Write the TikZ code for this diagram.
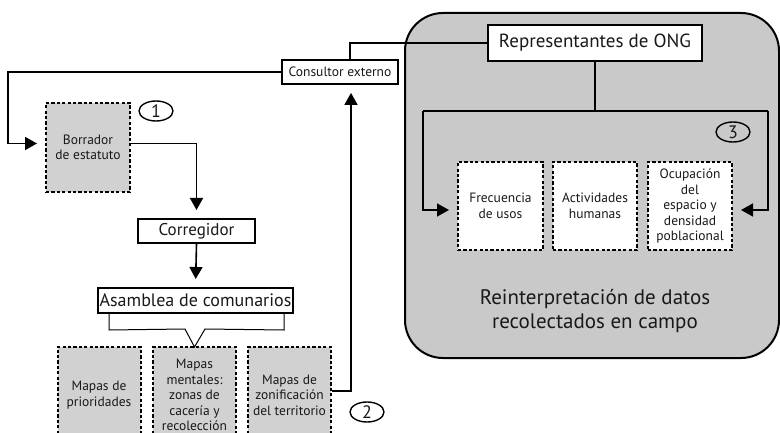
\documentclass[tikz,border=0pt]{standalone}
\usepackage{fontspec}
\setmainfont{PT Sans}
\usetikzlibrary{shapes.geometric,arrows.meta}

\begin{document}
\begin{tikzpicture}[x=1pt,y=-1pt]
\tikzstyle{every node}=[align=center, inner sep=0pt, text=black!90]
\tikzstyle{plain}=[draw, line width=2pt, fill=white]
\tikzstyle{dotbox}=[draw, line width=2pt, dash pattern=on 3.2pt off 2.2pt,
  fill=gray!36, minimum width=83pt, minimum height=89pt,
  font=\fontsize{13.5}{15.5}\selectfont]
\tikzstyle{num}=[draw, ellipse, line width=1.4pt, minimum width=34pt,
  minimum height=20pt, font=\fontsize{18}{18}\selectfont]
\tikzstyle{link}=[line width=1.6pt]
\tikzstyle{tip}=[-{Triangle[length=12pt,width=13pt]}, shorten >=8pt]
\path[use as bounding box, clip] (0,0) rectangle (780,433);
\node[draw, line width=2pt, fill=gray!42, rounded corners=38pt,
  minimum width=374pt, minimum height=345pt] (field) at (592,185.5) {};
\node[font=\fontsize{21}{24.5}\selectfont] (reint) at (595,311)
  {Reinterpretación de datos\\recolectados en campo};
\node[plain, minimum width=214pt, minimum height=36pt,
  font=\fontsize{19}{19}\selectfont] (ong) at (595,43) {Representantes de ONG};
\node[plain, line width=1.8pt, minimum width=116pt, minimum height=24pt,
  font=\fontsize{13.5}{13.5}\selectfont] (cons) at (340,72) {Consultor externo};
\node[dotbox, minimum width=84pt] (borr) at (88,147.5) {Borrador\\de estatuto};
\node[plain, minimum width=117pt, minimum height=24pt,
  font=\fontsize{17}{17}\selectfont] (corr) at (196.5,231) {Corregidor};
\node[plain, minimum width=195pt, minimum height=25pt,
  font=\fontsize{18}{18}\selectfont] (asam) at (195.5,300.5) {Asamblea de comunarios};
\node[dotbox, minimum height=96pt] (prio) at (99,395) {Mapas de\\prioridades};
\node[dotbox, minimum height=96pt] (ment) at (194.5,395)
  {Mapas\\mentales:\\zonas de\\cacería y\\recolección};
\node[dotbox, minimum height=96pt] (zoni) at (289.5,395)
  {Mapas de\\zonificación\\del territorio};
\node[dotbox, fill=white, minimum width=85pt, minimum height=88pt] (frec) at (500.5,206)
  {Frecuencia\\de usos};
\node[dotbox, fill=white, minimum width=84pt, minimum height=88pt] (act) at (595,206)
  {Actividades\\humanas};
\node[dotbox, fill=white, minimum width=84pt, minimum height=88pt] (ocu) at (690,206)
  {Ocupación\\del\\espacio y\\densidad\\poblacional};
\node[num] (n1) at (156,111) {1};
\node[num] (n2) at (367,412) {2};
\node[num] (n3) at (733,132) {3};
\coordinate (lft) at (8,72);
\coordinate (cl) at (423,111);
\coordinate (cr) at (768,111);
\draw[link] (ong.west) -| ([xshift=10pt]cons.north);
\draw[link, tip] (cons.west) -- (lft) |- ([yshift=4pt]borr.west);
\draw[link, tip] ([yshift=4pt]borr.east) -| (corr.north);
\draw[link, tip] (corr.south) -- (asam.north);
\draw[line width=1pt] ([xshift=12pt]asam.south west) -- ++(0,16) -- (185,329)
  -- ([yshift=-1pt]ment.north) -- (205,329) -- ([xshift=-10pt,yshift=-16pt]asam.south east)
  -- ([xshift=-10pt]asam.south east);
\draw[link, tip] ([yshift=4pt]zoni.east) -| ([xshift=11pt]cons.south);
\draw[link] (ong.south) -- (ong.south |- cl);
\draw[link] (cl) -- (cr);
\draw[link, tip] (cl) |- ([yshift=-4pt]frec.west);
\draw[link, tip] (cr) |- ([yshift=-4pt]ocu.east);
\end{tikzpicture}
\end{document}
